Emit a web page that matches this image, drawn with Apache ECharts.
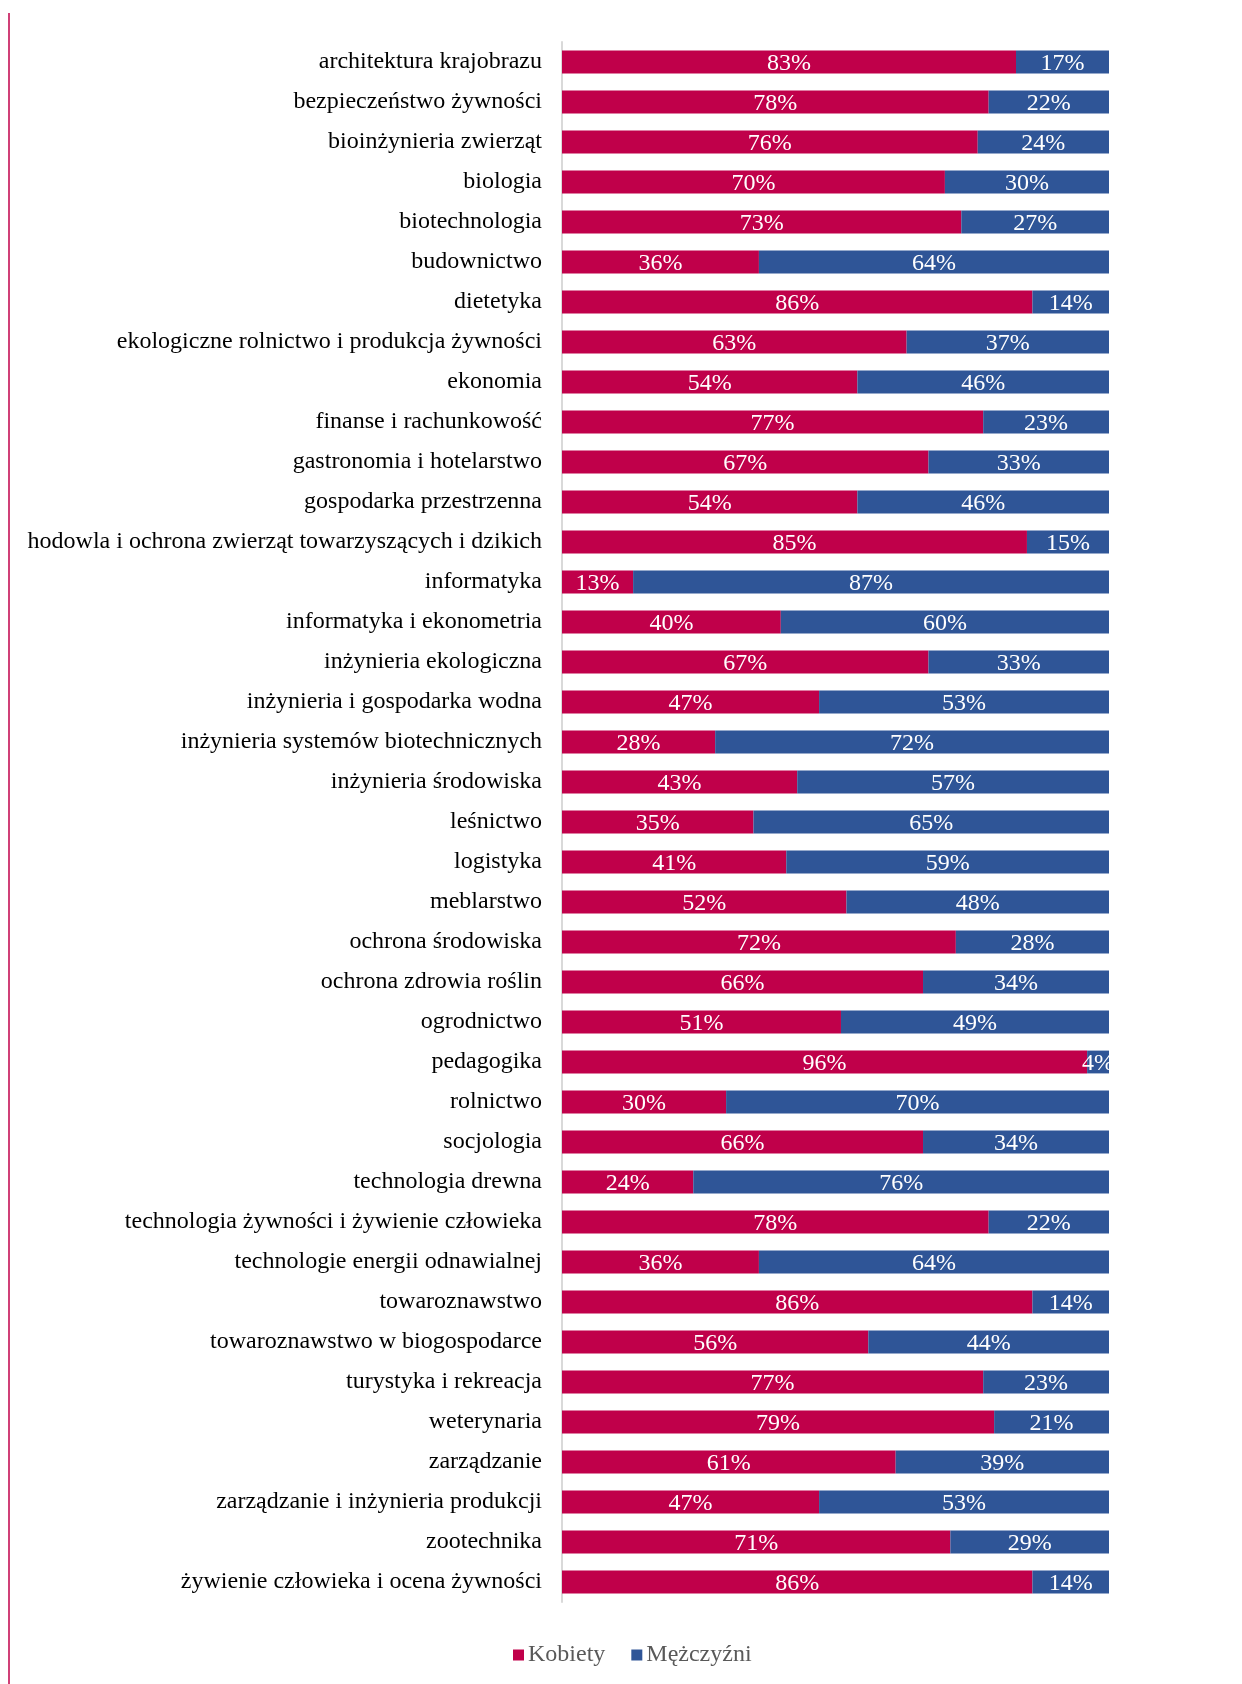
<!DOCTYPE html>
<html>
<head>
<meta charset="utf-8">
<script src="https://cdn.jsdelivr.net/npm/echarts@6/dist/echarts.min.js"></script>
<style>
html,body{margin:0;padding:0;background:#fff;}
#chart{width:1242px;height:1684px;}
</style>
</head>
<body>
<div id="chart"></div>
<script>
const categories = [
  "architektura krajobrazu",
  "bezpieczeństwo żywności",
  "bioinżynieria zwierząt",
  "biologia",
  "biotechnologia",
  "budownictwo",
  "dietetyka",
  "ekologiczne rolnictwo i produkcja żywności",
  "ekonomia",
  "finanse i rachunkowość",
  "gastronomia i hotelarstwo",
  "gospodarka przestrzenna",
  "hodowla i ochrona zwierząt towarzyszących i dzikich",
  "informatyka",
  "informatyka i ekonometria",
  "inżynieria ekologiczna",
  "inżynieria i gospodarka wodna",
  "inżynieria systemów biotechnicznych",
  "inżynieria środowiska",
  "leśnictwo",
  "logistyka",
  "meblarstwo",
  "ochrona środowiska",
  "ochrona zdrowia roślin",
  "ogrodnictwo",
  "pedagogika",
  "rolnictwo",
  "socjologia",
  "technologia drewna",
  "technologia żywności i żywienie człowieka",
  "technologie energii odnawialnej",
  "towaroznawstwo",
  "towaroznawstwo w biogospodarce",
  "turystyka i rekreacja",
  "weterynaria",
  "zarządzanie",
  "zarządzanie i inżynieria produkcji",
  "zootechnika",
  "żywienie człowieka i ocena żywności"
];
const kobiety = [83,78,76,70,73,36,86,63,54,77,67,54,85,13,40,67,47,28,43,35,41,52,72,66,51,96,30,66,24,78,36,86,56,77,79,61,47,71,86];
const mezczyzni = [17,22,24,30,27,64,14,37,46,23,33,46,15,87,60,33,53,72,57,65,59,48,28,34,49,4,70,34,76,22,64,14,44,23,21,39,53,29,14];
const seriesNames = ["Kobiety","Mężczyźni"];

const FONT = '"Liberation Serif","Times New Roman",serif';
const chart = echarts.init(document.getElementById('chart'));
const labelCfg = {
  show: true, position: 'inside', color: '#fff',
  fontFamily: FONT, fontSize: 24, offset: [0, 2],
  formatter: p => p.value + '%'
};
chart.setOption({
  animation: false,
  backgroundColor: '#fff',
  graphic: [{
    type: 'line', shape: {x1: 9, y1: 13, x2: 9, y2: 1684},
    style: {stroke: '#C0004A', lineWidth: 1.5}
  }],
  legend: {
    left: 508, top: 1638,
    itemWidth: 11, itemHeight: 11, itemGap: 26,
    icon: 'rect',
    textStyle: {fontFamily: FONT, fontSize: 24, color: '#595959', padding: [0,0,0,-1]},
    data: seriesNames
  },
  grid: {left: 562, right: 133, top: 42, height: 1560, containLabel: false},
  xAxis: {type: 'value', min: 0, max: 100, show: false},
  yAxis: {
    type: 'category', data: categories, inverse: true,
    axisLine: {show: true, lineStyle: {color: '#D9D9D9', width: 2}},
    axisTick: {show: false},
    axisLabel: {fontFamily: FONT, fontSize: 24, color: '#000', margin: 20, padding: [4,0,0,0]}
  },
  series: [
    {name: seriesNames[0], type: 'bar', stack: 't', data: kobiety, barCategoryGap: '43%',
     itemStyle: {color: '#C0004A'}, label: labelCfg},
    {name: seriesNames[1], type: 'bar', stack: 't', data: mezczyzni, barCategoryGap: '43%',
     itemStyle: {color: '#2F5597'}, label: labelCfg}
  ]
});
</script>
</body>
</html>
